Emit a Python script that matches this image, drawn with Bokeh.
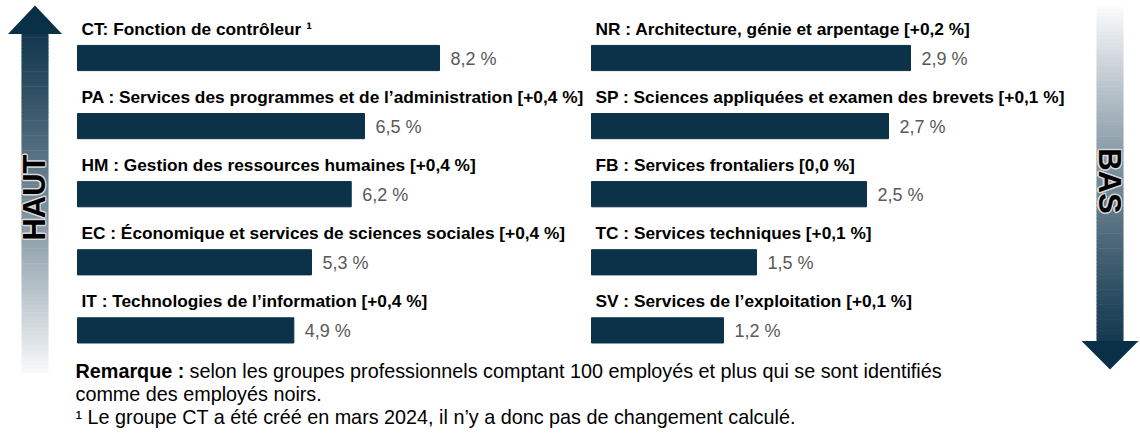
import numpy as np
from bokeh.plotting import figure
from bokeh.models import Range1d, ColumnDataSource
from bokeh.core.properties import value
from bokeh.embed import file_html
from bokeh.resources import INLINE

# ---------------- data ----------------
left_codes = ["CT", "PA", "HM", "EC", "IT"]
left_names = ["Fonction de contrôleur", "Services des programmes et de l’administration",
              "Gestion des ressources humaines", "Économique et services de sciences sociales",
              "Technologies de l’information"]
left_changes = [None, "+0,4 %", "+0,4 %", "+0,4 %", "+0,4 %"]
left_values = [8.2, 6.5, 6.2, 5.3, 4.9]

right_codes = ["NR", "SP", "FB", "TC", "SV"]
right_names = ["Architecture, génie et arpentage", "Sciences appliquées et examen des brevets",
               "Services frontaliers", "Services techniques", "Services de l’exploitation"]
right_changes = ["+0,2 %", "+0,1 %", "0,0 %", "+0,1 %", "+0,1 %"]
right_values = [2.9, 2.7, 2.5, 1.5, 1.2]

up_label = "HAUT"
down_label = "BAS"
note_bold = "Remarque :"
note_line1 = "selon les groupes professionnels comptant 100 employés et plus qui se sont identifiés"
note_line2 = "comme des employés noirs."
note_line3 = "¹ Le groupe CT a été créé en mars 2024, il n’y a donc pas de changement calculé."

# ---------------- styling ----------------
W, H = 1140, 438
FONT = value("Liberation Sans")
BAR = "#0b3249"
VAL_COLOR = "#595959"


def make_label(code, name, change):
    if change is None:
        return f"{code}: {name} ¹"
    return f"{code} : {name} [{change}]"


def fmt(v):
    return f"{v:.1f}".replace(".", ",") + " %"


p = figure(width=W, height=H, x_range=Range1d(0, W), y_range=Range1d(H, 0),
           output_backend="svg", toolbar_location=None, min_border=0,
           background_fill_color="white", border_fill_color="white")
p.xaxis.visible = False
p.yaxis.visible = False
p.grid.visible = False
p.outline_line_color = None

SCALE_L, X0_L = 44.15, 77.0
SCALE_R, X0_R = 110.0, 591.0
ROW0, STEP = 57.5, 68.1
p.extra_x_ranges = {
    "left": Range1d(-X0_L / SCALE_L, (W - X0_L) / SCALE_L),
    "right": Range1d(-X0_R / SCALE_R, (W - X0_R) / SCALE_R),
}
p.extra_y_ranges = {"rows": Range1d((H - ROW0) / STEP, -ROW0 / STEP)}

for side, codes, names, changes, vals in [
    ("left", left_codes, left_names, left_changes, left_values),
    ("right", right_codes, right_names, right_changes, right_values),
]:
    src = ColumnDataSource(dict(
        row=list(range(len(vals))),
        val=vals,
        label=[make_label(c, n, ch) for c, n, ch in zip(codes, names, changes)],
        vlabel=[fmt(v) for v in vals],
    ))
    p.hbar(y="row", left=0, right="val", height=0.37, source=src,
           x_range_name=side, y_range_name="rows",
           fill_color=BAR, line_color=BAR)
    p.text(x=0, y="row", text="label", source=src, x_range_name=side, y_range_name="rows",
           x_offset=4, y_offset=-29, text_baseline="middle", text_align="left",
           text_font=FONT, text_font_style="bold", text_font_size="17.3px", text_color="black")
    p.text(x="val", y="row", text="vlabel", source=src, x_range_name=side, y_range_name="rows",
           x_offset=11, y_offset=1, text_baseline="middle", text_align="left",
           text_font=FONT, text_font_size="18px", text_color=VAL_COLOR)


# ---------------- gradient arrows (decoration) ----------------
def grad_color(t):
    # t = 0 dark, 1 light
    t = t ** 1.25
    dark = np.array([10, 48, 72])
    light = np.array([250, 251, 252])
    c = dark + (light - dark) * t
    return "#%02x%02x%02x" % tuple(int(round(x)) for x in c)


N = 90
# Up arrow (left)
cxL, shaftL, headL = 34.5, 13.5, 27.0
top_head, base_head, bottom = 5.0, 33.0, 372.0
ys = np.linspace(base_head, bottom, N + 1)
p.quad(left=cxL - shaftL, right=cxL + shaftL, top=ys[:-1], bottom=ys[1:] + 0.6,
       fill_color=[grad_color((y - top_head) / (bottom - top_head)) for y in ys[:-1]],
       line_color=None)
p.patch([cxL - headL, cxL, cxL + headL], [base_head + 0.5, top_head, base_head + 0.5],
        fill_color=grad_color(0.0), line_color=None)

# Down arrow (right)
cxR, shaftR, headR = 1109.5, 13.5, 28.5
top_s, base_h, tip = 5.0, 341.0, 369.0
ys = np.linspace(top_s, base_h, N + 1)
p.quad(left=cxR - shaftR, right=cxR + shaftR, top=ys[:-1], bottom=ys[1:] + 0.6,
       fill_color=[grad_color((tip - y) / (tip - top_s)) for y in ys[:-1]],
       line_color=None)
p.patch([cxR - headR, cxR, cxR + headR], [base_h - 0.5, tip, base_h - 0.5],
        fill_color=grad_color(0.0), line_color=None)

# outlined vertical words
for word, x, y, ang in [(up_label, 33.5, 197.0, np.pi / 2), (down_label, 1108.5, 180.5, -np.pi / 2)]:
    for dx, dy in [(-1.5, 0), (1.5, 0), (0, -1.5), (0, 1.5), (-1, -1), (1, 1), (-1, 1), (1, -1)]:
        p.text(x=[x], y=[y], text=[word], angle=ang, x_offset=dx, y_offset=dy,
               text_align="center", text_baseline="middle", text_font=FONT,
               text_font_style="bold", text_font_size="31px", text_color="#d8d8d8")
    p.text(x=[x], y=[y], text=[word], angle=ang, text_align="center", text_baseline="middle",
           text_font=FONT, text_font_style="bold", text_font_size="31px", text_color="black")

# ---------------- note ----------------
NX = 75.0
NFS = "19.8px"
p.text(x=[NX], y=[370.0], text=[note_bold], text_align="left", text_baseline="middle",
       text_font=FONT, text_font_style="bold", text_font_size=NFS, text_color="black")
p.text(x=[NX + 114.0], y=[370.0], text=[note_line1], text_align="left", text_baseline="middle",
       text_font=FONT, text_font_size=NFS, text_color="black")
p.text(x=[NX, NX], y=[393.0, 416.0], text=[note_line2, note_line3], text_align="left",
       text_baseline="middle", text_font=FONT, text_font_size=NFS, text_color="black")

open("out.html", "w").write(file_html(p, INLINE))
